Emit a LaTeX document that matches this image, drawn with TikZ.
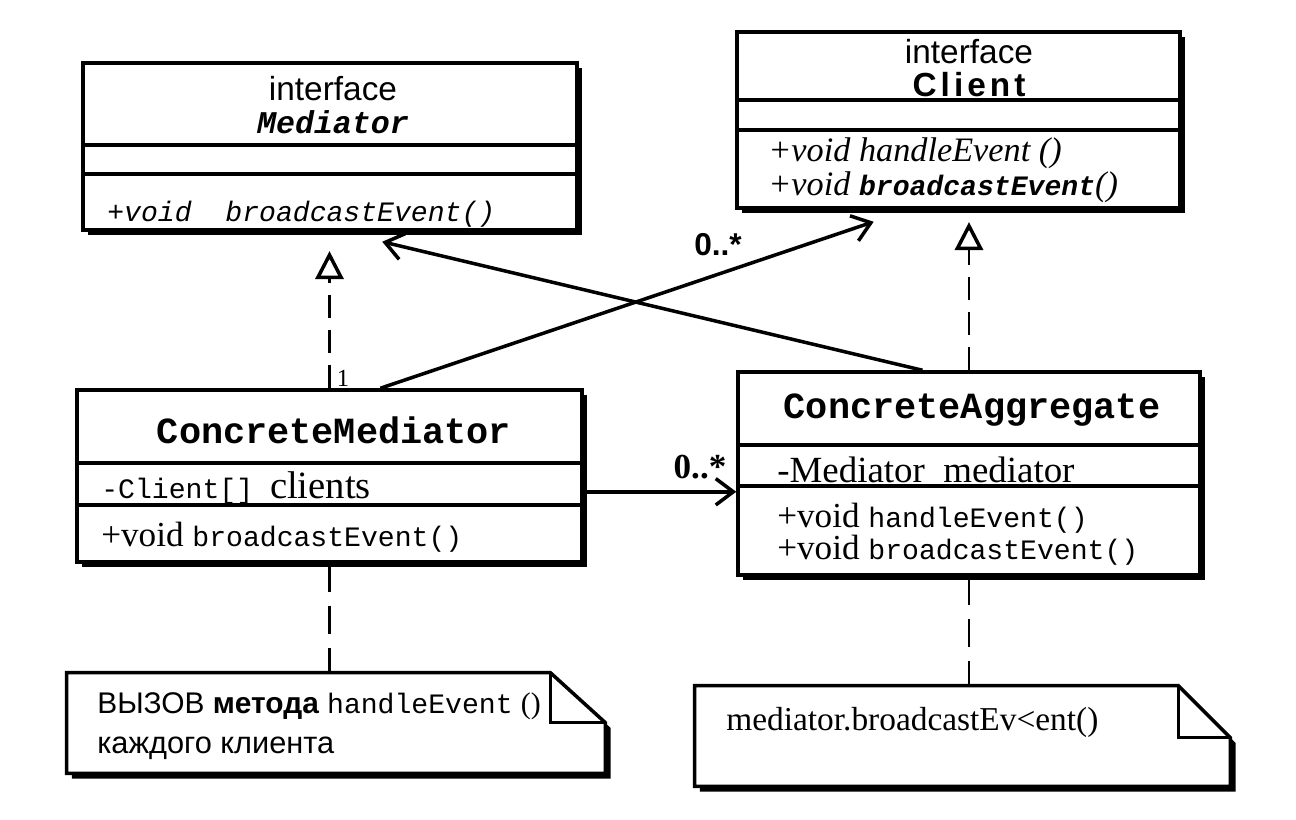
\documentclass[tikz,border=0pt]{standalone}
\usepackage{fontspec}
\setmainfont{Liberation Serif}
\setsansfont{Liberation Sans}
\setmonofont{Liberation Mono}
\newfontfamily\spacedsans{Liberation Sans}[LetterSpace=12]
\usetikzlibrary{arrows.meta,positioning,fit,calc,shadows}
\newcommand{\mono}[1]{{\ttfamily\fontsize{16}{19}\selectfont #1}}

\begin{document}
\begin{tikzpicture}[
  x=0.02cm, y=-0.02cm,
  cls/.style={draw, line width=2pt, fill=white, inner sep=0pt,
    drop shadow={shadow xshift=3pt, shadow yshift=-3pt, fill=black, opacity=1}},
  sep/.style={line width=2pt},
  stereo/.style={inner sep=0pt, font=\sffamily\fontsize{19}{22}\selectfont},
  iname/.style={inner sep=0pt, anchor=base,
    font=\ttfamily\bfseries\itshape\fontsize{18}{21}\selectfont},
  cname/.style={inner sep=0pt, anchor=base,
    font=\ttfamily\bfseries\fontsize{21}{24}\selectfont},
  member/.style={inner sep=0pt, anchor=base west,
    font=\rmfamily\fontsize{20}{22}\selectfont},
  notefr/.style={draw, line width=2pt, fill=white,
    drop shadow={shadow xshift=3pt, shadow yshift=-3pt, fill=black, opacity=1}},
  notetxt/.style={inner sep=0pt, anchor=base west},
  real/.style={line width=1.5pt, dash pattern=on 13pt off 7pt,
    -{Triangle[open, length=16pt, width=16pt, line width=2pt]}},
  link/.style={line width=1.5pt, dash pattern=on 16pt off 8pt},
  assoc/.style={line width=2pt, -{Straight Barb[length=10pt, width=15pt]}},
  mult/.style={inner sep=0pt},
]
\path[use as bounding box, fill=white] (0,0) rectangle (1296,819);

% interface Mediator
\node[cls, fit={(83,63) (577,230)}] (med) {};
\draw[sep] (83,145) -- (577,145);
\draw[sep] (83,174) -- (577,174);
\node[stereo] (med-st) at (333,89) {interface};
\node[iname] (med-nm) at (333,133) {Mediator};
\node[member, font=\ttfamily\itshape\fontsize{16}{19}\selectfont] (med-op) at (107,221) {+void~~broadcastEvent()};

% interface Client
\node[cls, fit={(737,32) (1180,208)}] (cli) {};
\draw[sep] (737,100) -- (1180,100);
\draw[sep] (737,130) -- (1180,130);
\node[stereo] (cli-st) at (969,52) {interface};
\node[inner sep=0pt, anchor=base, font=\spacedsans\bfseries\fontsize{19}{22}\selectfont] (cli-nm) at (969,96) {Client};
\node[member, font=\rmfamily\itshape\fontsize{19.5}{22}\selectfont] (cli-op1) at (768,161) {+void handleEvent ()};
\node[member, font=\rmfamily\itshape\fontsize{19.5}{22}\selectfont] (cli-op2) at (768,195) {+void {\ttfamily\bfseries\fontsize{16}{19}\selectfont broadcastEvent}()};

% ConcreteMediator
\node[cls, fit={(77,390) (582,562)}] (cmed) {};
\draw[sep] (77,463) -- (582,463);
\draw[sep] (77,505) -- (582,505);
\node[cname] (cm-nm) at (334,443) {ConcreteMediator};
\node[member, font=\rmfamily\fontsize{22}{24}\selectfont] (cm-at) at (101,498) {\mono{-Client[]~}clients};
\node[member] (cm-op) at (101,546) {+void \mono{broadcastEvent()}};

% ConcreteAggregate
\node[cls, fit={(738,372) (1200,575)}] (cagg) {};
\draw[sep] (738,445) -- (1200,445);
\draw[sep] (738,486) -- (1200,486);
\node[cname] (ca-nm) at (972,418) {ConcreteAggregate};
\node[member, font=\rmfamily\fontsize{21}{22}\selectfont] (ca-at) at (777,482) {-Mediator\ \ mediator};
\node[member] (ca-op1) at (777,527) {+void \mono{handleEvent()}};
\node[member] (ca-op2) at (777,559) {+void \mono{broadcastEvent()}};

% notes
\node[inner sep=0pt, fit={(67,673) (605,773)}] (note1) {};
\draw[notefr] (note1.north west) -- ($(note1.north east)+(-55,0)$) -- ($(note1.north east)+(0,50)$)
  -- (note1.south east) -- (note1.south west) -- cycle;
\draw[sep] ($(note1.north east)+(-55,0)$) |- ($(note1.north east)+(0,50)$);
\node[notetxt, font=\sffamily\fontsize{17}{20}\selectfont] (n1a) at (97,713) {ВЫЗОВ {\bfseries метода} \mono{handleEvent} {\rmfamily ()}};
\node[notetxt, font=\sffamily\fontsize{17.5}{20}\selectfont] (n1b) at (97,753) {каждого клиента};

\node[inner sep=0pt, fit={(695,686) (1230,786)}] (note2) {};
\draw[notefr] (note2.north west) -- ($(note2.north east)+(-52,0)$) -- ($(note2.north east)+(0,52)$)
  -- (note2.south east) -- (note2.south west) -- cycle;
\draw[sep] ($(note2.north east)+(-52,0)$) |- ($(note2.north east)+(0,52)$);
\node[notetxt, font=\rmfamily\fontsize{19}{22}\selectfont] (n2a) at (726,730) {mediator.broadcastEv<ent()};

% connectors
\draw[real, shorten >=11pt] (cmed.north) -- (cmed.north |- med.south);
\draw[real, shorten >=7pt] (cagg.north) -- (cagg.north |- cli.south);
\draw[assoc] ($(cagg.north west)!0.4!(cagg.north east)$) -- ($(med.south west)!0.605!(med.south east)+(0,10)$);
\draw[assoc] ($(cmed.north west)!0.6!(cmed.north east)$) -- ($(cli.south west)!0.31!(cli.south east)+(0,12)$);
\draw[assoc] ($(cmed.north east)!0.59!(cmed.south east)$) coordinate (h0) -- (h0 -| cagg.west);
\draw[link] (cmed.south) -- (cmed.south |- note1.north);
\draw[link] (cagg.south) -- (cagg.south |- note2.north);

\node[mult, font=\rmfamily\fontsize{14}{15}\selectfont] (one) at (343,378) {1};
\node[mult, font=\sffamily\bfseries\fontsize{18}{20}\selectfont] (m-cli) at (718,245) {0..*};
\node[mult, font=\rmfamily\bfseries\fontsize{20}{22}\selectfont] (m-agg) at (700,467) {0..*};
\end{tikzpicture}
\end{document}
